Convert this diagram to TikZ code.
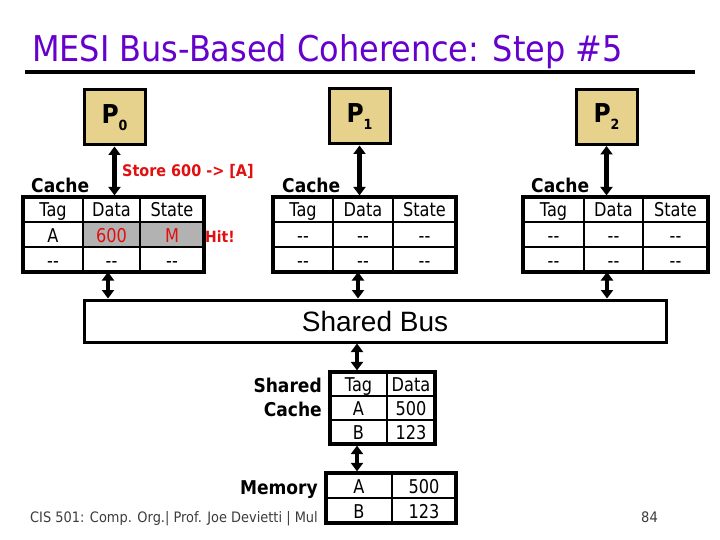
\documentclass[tikz,border=0pt]{standalone}
\usepackage{fontspec}
\setmainfont{DejaVu Sans}[FakeStretch=0.9,Ligatures=TeXOff]
\newfontfamily\cellfont{DejaVu Sans}[FakeStretch=0.85,Ligatures=TeXOff]
\newfontfamily\arialfont{Liberation Sans}
\usetikzlibrary{arrows.meta}
\definecolor{titlepurple}{RGB}{102,0,204}
\definecolor{ptan}{RGB}{230,210,140}
\definecolor{hitred}{RGB}{225,15,15}
\definecolor{cellgray}{RGB}{178,178,178}
\definecolor{footgray}{RGB}{60,60,60}
\tikzset{
  pbox/.style={draw, line width=3pt, fill=ptan, inner sep=0pt, minimum width=61pt, minimum height=55pt},
  tframe/.style={draw, line width=3.2pt, inner sep=0pt},
  tcell/.style={draw, line width=1.5pt, fill=white, inner sep=0pt, minimum height=25pt, text height=15pt, text depth=0pt, font=\cellfont\fontsize{19}{21}\selectfont},
  shadecell/.style={tcell, fill=cellgray, text=hitred},
  biarrow/.style={line width=4.2pt, {Triangle[length=8.5pt,width=12pt]}-{Triangle[length=8.5pt,width=12pt]}},
  boldlabel/.style={inner sep=0pt, font=\bfseries\fontsize{19}{21}\selectfont},
  redlabel/.style={inner sep=0pt, text=hitred, font=\bfseries\fontsize{16}{18}\selectfont},
}
\newcommand\Pname[1]{\bfseries\fontsize{26}{26}\selectfont P\raisebox{-7pt}{\fontsize{14}{14}\selectfont #1}}
\begin{document}
\begin{tikzpicture}[x=1pt,y=-1pt]
\useasboundingbox (0,0) rectangle (720,540);
% title
\node[anchor=base west, inner sep=0pt, text=titlepurple, font=\fontsize{35.5}{40}\selectfont] (title) at (32,62) {MESI Bus-Based Coherence: Step \#5};
\coordinate (ruleL) at (25,72);
\coordinate (ruleR) at (695,72);
\draw[line width=3.2pt] (ruleL) -- (ruleR);

% processors
\node[pbox] (p0) at (114.5,117.5) {\Pname{0}};
\node[pbox] (p1) at (359.5,116.5) {\Pname{1}};
\node[pbox] (p2) at (606.5,117) {\Pname{2}};

% cache labels
\node[boldlabel, anchor=base west] (cl0) at (31,193) {Cache};
\node[boldlabel, anchor=base west] (cl1) at (282,193) {Cache};
\node[boldlabel, anchor=base west] (cl2) at (531,193) {Cache};
\node[redlabel, anchor=base west] (store) at (122,177) {Store 600 -> [A]};
\node[redlabel, anchor=base west, font=\bfseries\fontsize{15.5}{17}\selectfont] (hit) at (205,243) {Hit!};

% P0 cache
\node[tcell, minimum width=60pt] (a00) at (53,209.5) {Tag};
\node[tcell, minimum width=57pt] (a01) at (111.5,209.5) {Data};
\node[tcell, minimum width=64pt] (a02) at (172,209.5) {State};
\node[tcell, minimum width=60pt] (a10) at (53,234.5) {A};
\node[shadecell, minimum width=57pt] (a11) at (111.5,234.5) {600};
\node[shadecell, minimum width=64pt] (a12) at (172,234.5) {M};
\node[tcell, minimum width=60pt] (a20) at (53,259.5) {--};
\node[tcell, minimum width=57pt] (a21) at (111.5,259.5) {--};
\node[tcell, minimum width=64pt] (a22) at (172,259.5) {--};
\node[tframe, minimum width=181pt, minimum height=75pt] (t0) at (113.5,234.5) {};

% P1 cache
\node[tcell, minimum width=60pt] (b00) at (303,209.5) {Tag};
\node[tcell, minimum width=60pt] (b01) at (363,209.5) {Data};
\node[tcell, minimum width=63pt] (b02) at (424.5,209.5) {State};
\node[tcell, minimum width=60pt] (b10) at (303,234.5) {--};
\node[tcell, minimum width=60pt] (b11) at (363,234.5) {--};
\node[tcell, minimum width=63pt] (b12) at (424.5,234.5) {--};
\node[tcell, minimum width=60pt] (b20) at (303,259.5) {--};
\node[tcell, minimum width=60pt] (b21) at (363,259.5) {--};
\node[tcell, minimum width=63pt] (b22) at (424.5,259.5) {--};
\node[tframe, minimum width=183pt, minimum height=75pt] (t1) at (364.5,234.5) {};

% P2 cache
\node[tcell, minimum width=61pt] (c00) at (553.5,209.5) {Tag};
\node[tcell, minimum width=59pt] (c01) at (613.5,209.5) {Data};
\node[tcell, minimum width=65pt] (c02) at (675.5,209.5) {State};
\node[tcell, minimum width=61pt] (c10) at (553.5,234.5) {--};
\node[tcell, minimum width=59pt] (c11) at (613.5,234.5) {--};
\node[tcell, minimum width=65pt] (c12) at (675.5,234.5) {--};
\node[tcell, minimum width=61pt] (c20) at (553.5,259.5) {--};
\node[tcell, minimum width=59pt] (c21) at (613.5,259.5) {--};
\node[tcell, minimum width=65pt] (c22) at (675.5,259.5) {--};
\node[tframe, minimum width=185pt, minimum height=75pt] (t2) at (615.5,234.5) {};

% processor-cache arrows
\draw[biarrow] (p0.south) -- (p0.south |- t0.north);
\draw[biarrow] (p1.south) -- (p1.south |- t1.north);
\draw[biarrow] (p2.south) -- (p2.south |- t2.north);

% bus
\node[draw, line width=3pt, inner sep=0pt, minimum width=582pt, minimum height=42pt, font=\arialfont\fontsize{28}{30}\selectfont] (bus) at (375,321) {Shared Bus};

\coordinate (d0) at (108,272);
\coordinate (d1) at (358,272);
\coordinate (d2) at (607,272);
\draw[biarrow] (d0) -- (d0 |- bus.north);
\draw[biarrow] (d1) -- (d1 |- bus.north);
\draw[biarrow] (d2) -- (d2 |- bus.north);

% footer
\node[anchor=base west, inner sep=0pt, text=footgray, font=\fontsize{14.4}{16}\selectfont] (foot) at (30,522) {CIS 501: Comp. Org.| Prof. Joe Devietti | Mul};
\node[anchor=base west, inner sep=0pt, text=footgray, font=\fontsize{14.5}{16}\selectfont] (pnum) at (641,522) {84};

% shared cache
\node[boldlabel, anchor=base east] (scl1) at (322,392) {Shared};
\node[boldlabel, anchor=base east] (scl2) at (322,416) {Cache};
\node[tcell, minimum width=57pt, minimum height=24pt] (s00) at (358.5,384) {Tag};
\node[tcell, minimum width=48pt, minimum height=24pt] (s01) at (411,384) {Data};
\node[tcell, minimum width=57pt, minimum height=24pt] (s10) at (358.5,408) {A};
\node[tcell, minimum width=48pt, minimum height=24pt] (s11) at (411,408) {500};
\node[tcell, minimum width=57pt, minimum height=24pt] (s20) at (358.5,432) {B};
\node[tcell, minimum width=48pt, minimum height=24pt] (s21) at (411,432) {123};
\node[tframe, minimum width=105pt, minimum height=72pt] (sc) at (382.5,408) {};

% memory
\node[boldlabel, anchor=base east] (meml) at (318,494) {Memory};
\node[tcell, minimum width=66pt] (m00) at (359,485.5) {A};
\node[tcell, minimum width=64pt] (m01) at (424,485.5) {500};
\node[tcell, minimum width=66pt] (m10) at (359,510.5) {B};
\node[tcell, minimum width=64pt] (m11) at (424,510.5) {123};
\node[tframe, minimum width=130pt, minimum height=50pt] (mem) at (391,498) {};

\coordinate (e0) at (357,342);
\draw[biarrow] (e0 |- bus.south) -- (e0 |- sc.north);
\draw[biarrow] (e0 |- sc.south) -- (e0 |- mem.north);
\end{tikzpicture}
\end{document}
